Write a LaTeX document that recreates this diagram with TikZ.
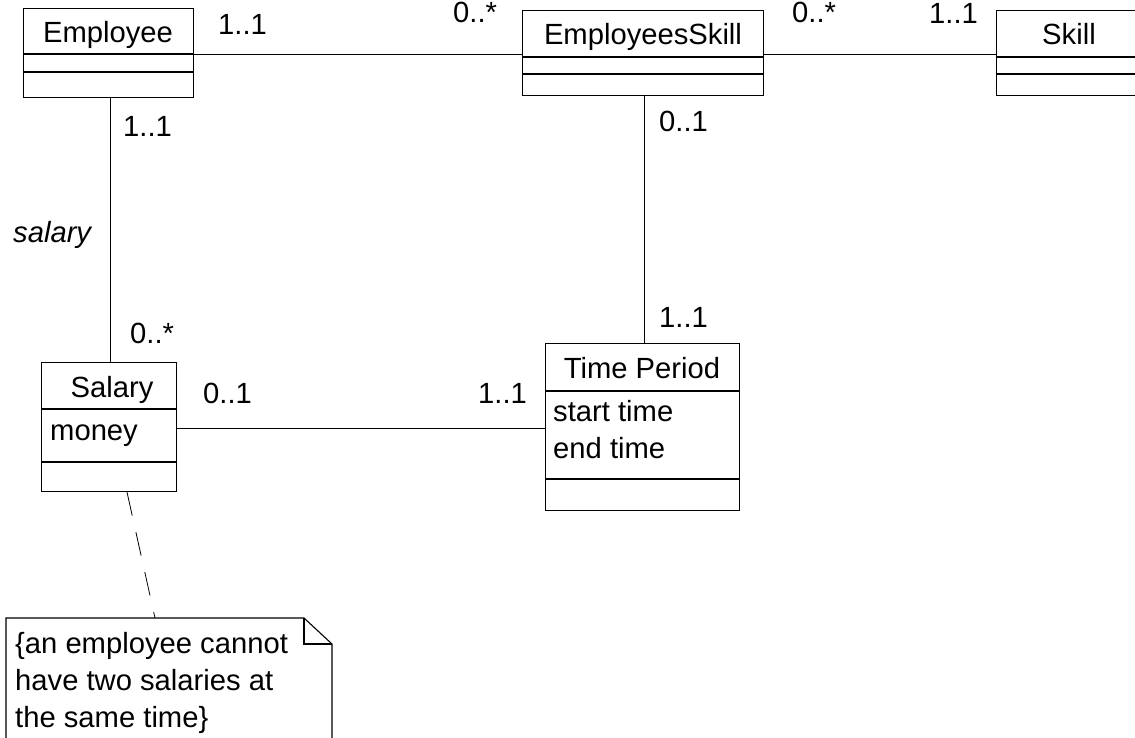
\documentclass[tikz,border=0pt]{standalone}
\usepackage{fontspec}
\setmainfont{Liberation Sans}
\begin{document}
\begin{tikzpicture}[x=1pt,y=-1pt,
  classbox/.style={draw, line width=1.1pt, fill=white, inner sep=0pt, anchor=north west},
  compart/.style={line width=1.1pt},
  assoc/.style={line width=0.8pt},
  txt/.style={inner sep=0pt, font=\fontsize{29.2}{37}\selectfont},
  cname/.style={txt, anchor=base},
  attr/.style={txt, anchor=base west},
  mult/.style={txt, anchor=base west},
  notelink/.style={line width=0.8pt, dash pattern=on 24pt off 17pt},
]
\clip (0,0) rectangle (1135,738);
\fill[white] (0,0) rectangle (1135,738);

% class boxes
\node[classbox, minimum width=170pt, minimum height=89pt]  (emp)   at (23,8)   {};
\node[classbox, minimum width=241pt, minimum height=85pt]  (es)    at (522,10) {};
\node[classbox, minimum width=200pt, minimum height=85pt]  (skill) at (996,10) {};
\node[classbox, minimum width=135pt, minimum height=129pt] (sal)   at (41,362) {};
\node[classbox, minimum width=194pt, minimum height=167pt] (tp)    at (545,343) {};

% compartment dividers
\foreach \b/\ya/\yb in {emp/54/72, es/57/74, skill/57/74, sal/409/462, tp/391/479} {
  \draw[compart] (\b.west |- 0,\ya) -- (\b.east |- 0,\ya);
  \draw[compart] (\b.west |- 0,\yb) -- (\b.east |- 0,\yb);
}

% class names and attributes
\node[cname] (empname)   at (108,43)  {Employee};
\node[cname] (esname)    at (643,45)  {EmployeesSkill};
\node[cname] (skillname) at (1069,45) {Skill};
\node[cname] (salname)   at (112,397) {Salary};
\node[attr]  (salmoney)  at (50,440)  {money};
\node[cname] (tpname)    at (642,378) {Time Period};
\node[attr]  (tpstart)   at (553,421) {start time};
\node[attr]  (tpend)     at (553,458) {end time};

% associations
\draw[assoc] (emp.east |- 0,54) -- (es.west |- 0,54);
\draw[assoc] (es.east |- 0,54) -- (skill.west |- 0,54);
\draw[assoc] (emp.south -| 110,0) -- (sal.north -| 110,0);
\draw[assoc] (es.south -| 644,0) -- (tp.north -| 644,0);
\draw[assoc] (sal.east |- 0,428) -- (tp.west |- 0,428);

% multiplicities and role name
\node[mult] (m1) at (218,35)  {1..1};
\node[mult] (m2) at (453,23)  {0..*};
\node[mult] (m3) at (792,23)  {0..*};
\node[mult] (m4) at (929,24)  {1..1};
\node[mult] (m5) at (123,137) {1..1};
\node[mult, font=\fontsize{29.2}{37}\selectfont\itshape] (role) at (13,243) {salary};
\node[mult] (m6) at (130,343) {0..*};
\node[mult] (m7) at (659,132) {0..1};
\node[mult] (m8) at (659,327) {1..1};
\node[mult] (m9) at (203,403) {0..1};
\node[mult] (m10) at (478,403) {1..1};

% constraint note with folded corner
\node[inner sep=0pt, minimum width=326pt, minimum height=130pt, anchor=north west] (note) at (6,618) {};
\draw[line width=1.1pt, fill=white] (6,745) -- (6,618) -- (304,618) -- (332,644) -- (332,745);
\draw[line width=1.1pt] (304,618) -- (304,644) -- (332,644);
\node[attr] (nl1) at (15,653) {\{an employee cannot};
\node[attr] (nl2) at (15,690) {have two salaries at};
\node[attr] (nl3) at (15,727) {the same time\}};

\draw[notelink] (sal.south -| 127,0) -- (note.north -| 155,0);
\end{tikzpicture}
\end{document}
